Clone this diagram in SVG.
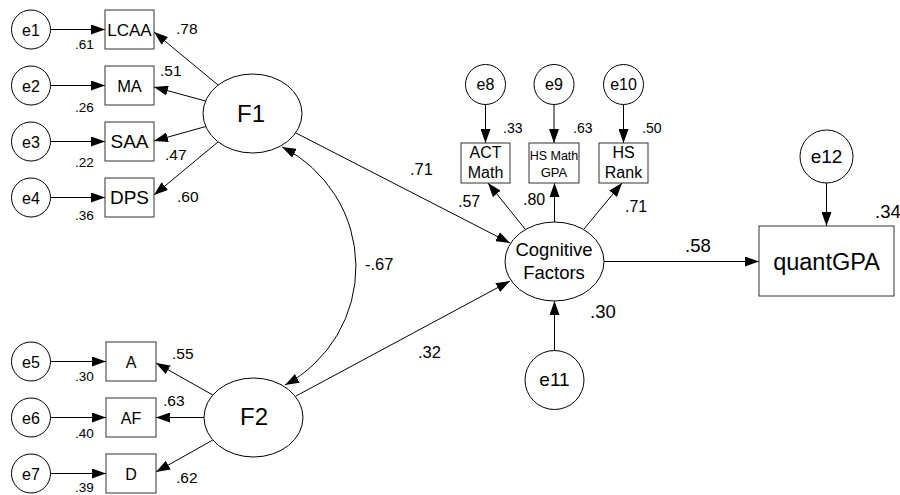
<svg xmlns="http://www.w3.org/2000/svg" width="900" height="495" viewBox="0 0 900 495">
<style>
text{font-family:"Liberation Sans",Arial,sans-serif;fill:#000}
.c{fill:#fff;stroke:#000;stroke-width:1}
.b{fill:#fff;stroke:#333;stroke-width:1}
.l{fill:none;stroke:#000;stroke-width:1}
.e{font-size:16px;text-anchor:middle}
.m{text-anchor:middle}
.s{font-size:13.5px}
.k{font-size:15.5px}
.t{font-size:14px}
.p{font-size:16px}
.q{font-size:16.5px}
.r{font-size:18.5px}
</style>
<defs>
<marker id="ah" markerUnits="userSpaceOnUse" markerWidth="14" markerHeight="10" refX="14" refY="5" orient="auto"><path d="M0,0 L14,5 L0,10 z" fill="#000"/></marker>
<marker id="ah2" markerUnits="userSpaceOnUse" markerWidth="14" markerHeight="10" refX="14" refY="5" orient="auto-start-reverse"><path d="M0,0 L14,5 L0,10 z" fill="#000"/></marker>
</defs>
<g id="connectors">
<line class="l" x1="50.5" y1="29.5" x2="105" y2="29.5" marker-end="url(#ah)"/>
<line class="l" x1="50.5" y1="85.5" x2="105" y2="85.5" marker-end="url(#ah)"/>
<line class="l" x1="50.5" y1="141.5" x2="105" y2="141.5" marker-end="url(#ah)"/>
<line class="l" x1="50.5" y1="197.5" x2="105" y2="197.5" marker-end="url(#ah)"/>
<line class="l" x1="50.5" y1="361.5" x2="106" y2="361.5" marker-end="url(#ah)"/>
<line class="l" x1="50.5" y1="417.5" x2="106" y2="417.5" marker-end="url(#ah)"/>
<line class="l" x1="50.5" y1="473.5" x2="106" y2="473.5" marker-end="url(#ah)"/>
<line class="l" x1="218" y1="85" x2="154" y2="32" marker-end="url(#ah)"/>
<line class="l" x1="205.6" y1="101" x2="154" y2="87" marker-end="url(#ah)"/>
<line class="l" x1="205.8" y1="126.5" x2="154" y2="141" marker-end="url(#ah)"/>
<line class="l" x1="218" y1="142" x2="154" y2="195" marker-end="url(#ah)"/>
<line class="l" x1="212.8" y1="395" x2="156" y2="363" marker-end="url(#ah)"/>
<line class="l" x1="204" y1="417.5" x2="156" y2="417.5" marker-end="url(#ah)"/>
<line class="l" x1="212.8" y1="440" x2="156" y2="472" marker-end="url(#ah)"/>
<path class="l" d="M282,147 A134,134 0 0 1 285,385" marker-start="url(#ah2)" marker-end="url(#ah2)"/>
<line class="l" x1="296" y1="133" x2="510" y2="243" marker-end="url(#ah)"/>
<line class="l" x1="296" y1="396" x2="510" y2="281" marker-end="url(#ah)"/>
<line class="l" x1="485.5" y1="104.5" x2="485.5" y2="143" marker-end="url(#ah)"/>
<line class="l" x1="554" y1="104.5" x2="554" y2="143" marker-end="url(#ah)"/>
<line class="l" x1="623.5" y1="104.5" x2="623.5" y2="143" marker-end="url(#ah)"/>
<line class="l" x1="525" y1="229" x2="488" y2="183" marker-end="url(#ah)"/>
<line class="l" x1="554.5" y1="222" x2="554.5" y2="183" marker-end="url(#ah)"/>
<line class="l" x1="584" y1="229" x2="622" y2="183" marker-end="url(#ah)"/>
<line class="l" x1="604" y1="261.5" x2="759" y2="261.5" marker-end="url(#ah)"/>
<line class="l" x1="554.5" y1="350.5" x2="554.5" y2="301" marker-end="url(#ah)"/>
<line class="l" x1="826.5" y1="183" x2="826.5" y2="226" marker-end="url(#ah)"/>
</g>
<g id="labels">
<text class="k" x="176" y="34">.78</text>
<text class="k" x="160" y="76">.51</text>
<text class="k" x="165" y="160">.47</text>
<text class="k" x="177" y="202">.60</text>
<text class="s" x="75" y="49">.61</text>
<text class="s" x="75" y="112">.26</text>
<text class="s" x="75" y="167">.22</text>
<text class="s" x="75" y="220">.36</text>
<text class="k" x="172" y="359">.55</text>
<text class="k" x="163" y="406">.63</text>
<text class="k" x="176" y="483">.62</text>
<text class="s" x="75" y="381">.30</text>
<text class="s" x="75" y="438">.40</text>
<text class="s" x="75" y="492">.39</text>
<text class="q" x="410" y="175">.71</text>
<text class="q" x="365" y="270">-.67</text>
<text class="q" x="418" y="358">.32</text>
<text class="t" x="503" y="133">.33</text>
<text class="t" x="573" y="133">.63</text>
<text class="t" x="642" y="133">.50</text>
<text class="p" x="458" y="207">.57</text>
<text class="p" x="523" y="205">.80</text>
<text class="p" x="625" y="212">.71</text>
<text class="r" x="685" y="252">.58</text>
<text class="r" x="590" y="318">.30</text>
<text class="r" x="875" y="218">.34</text>
</g>
<g id="e1"><circle class="c" cx="31" cy="29.5" r="19.5"/><text class="e" x="31" y="35.5">e1</text></g>
<g id="e2"><circle class="c" cx="31" cy="85.5" r="19.5"/><text class="e" x="31" y="91.5">e2</text></g>
<g id="e3"><circle class="c" cx="31" cy="141.5" r="19.5"/><text class="e" x="31" y="147.5">e3</text></g>
<g id="e4"><circle class="c" cx="31" cy="197.5" r="19.5"/><text class="e" x="31" y="203.5">e4</text></g>
<g id="e5"><circle class="c" cx="31" cy="361.5" r="19.5"/><text class="e" x="31" y="367.5">e5</text></g>
<g id="e6"><circle class="c" cx="31" cy="417.5" r="19.5"/><text class="e" x="31" y="423.5">e6</text></g>
<g id="e7"><circle class="c" cx="31" cy="473.5" r="19.5"/><text class="e" x="31" y="479.5">e7</text></g>
<g id="LCAA"><rect class="b" x="105" y="10" width="49" height="39"/><text class="m" x="129.5" y="35.5" font-size="17">LCAA</text></g>
<g id="MA"><rect class="b" x="105" y="66" width="49" height="39"/><text class="m" x="129.5" y="91.5" font-size="16.5">MA</text></g>
<g id="SAA"><rect class="b" x="105" y="122" width="49" height="39"/><text class="m" x="129.5" y="148.3" font-size="19">SAA</text></g>
<g id="DPS"><rect class="b" x="105" y="178" width="49" height="39"/><text class="m" x="129.5" y="204.3" font-size="19">DPS</text></g>
<g id="A"><rect class="b" x="106" y="342" width="50" height="39"/><text class="m" x="131" y="367.5" font-size="16">A</text></g>
<g id="AF"><rect class="b" x="106" y="398" width="50" height="39"/><text class="m" x="131" y="423.5" font-size="16">AF</text></g>
<g id="D"><rect class="b" x="106" y="454" width="50" height="39"/><text class="m" x="131" y="479.5" font-size="16">D</text></g>
<g id="F1"><ellipse class="c" cx="252.5" cy="113.5" rx="49.5" ry="39.5"/><text class="m" x="251" y="121.5" font-size="24">F1</text></g>
<g id="F2"><ellipse class="c" cx="253.5" cy="417.5" rx="49.5" ry="39.5"/><text class="m" x="254" y="425" font-size="24">F2</text></g>
<g id="e8"><circle class="c" cx="485.5" cy="84.5" r="20"/><text class="e" x="485.5" y="90">e8</text></g>
<g id="e9"><circle class="c" cx="554" cy="84.5" r="20"/><text class="e" x="554" y="90">e9</text></g>
<g id="e10"><circle class="c" cx="623.5" cy="84.5" r="20"/><text class="e" x="623.5" y="90">e10</text></g>
<g id="ACTMath"><rect class="b" x="461" y="143" width="49" height="40"/><text class="m" x="485.5" y="157.5" font-size="16">ACT</text><text class="m" x="485.5" y="178" font-size="16">Math</text></g>
<g id="HSMathGPA"><rect class="b" x="529" y="143" width="50" height="40"/><text class="m" x="554" y="160" font-size="12.5">HS Math</text><text class="m" x="554" y="177" font-size="13">GPA</text></g>
<g id="HSRank"><rect class="b" x="599" y="143" width="49" height="40"/><text class="m" x="623.5" y="157.5" font-size="16">HS</text><text class="m" x="623.5" y="178" font-size="16">Rank</text></g>
<g id="CognitiveFactors"><ellipse class="c" cx="554.5" cy="261.5" rx="49.5" ry="39.5"/><text class="m" x="554" y="256" font-size="18.5">Cognitive</text><text class="m" x="554" y="278.5" font-size="18.5">Factors</text></g>
<g id="e11"><circle class="c" cx="554.5" cy="380" r="29.5"/><text class="m" x="554.5" y="386" font-size="19">e11</text></g>
<g id="e12"><circle class="c" cx="826.5" cy="156.5" r="26.5"/><text class="m" x="826.5" y="163" font-size="19">e12</text></g>
<g id="quantGPA"><rect class="b" x="759" y="226" width="135" height="70"/><text class="m" x="826.5" y="270" font-size="23.5">quantGPA</text></g>
</svg>
